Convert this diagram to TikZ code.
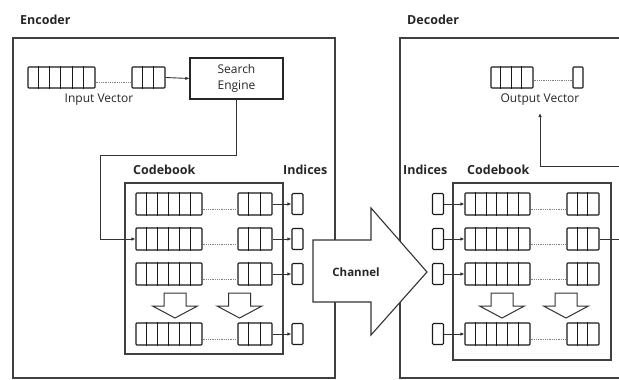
\documentclass[tikz,border=0pt]{standalone}
\usepackage{fontspec}
\setmainfont{Open Sans}
\usetikzlibrary{arrows.meta,calc,fit}

\newcommand\cellrow[6]{%
  \node[cellbox, fit={(#2,#3) (#4,#5)}] (#1) {};
  \pgfmathsetmacro\cw{(#4-#2)/#6}%
  \foreach \k in {2,...,#6}{\draw[cellline] ($(#1.north west)+({(\k-1)*\cw},0)$) -- ($(#1.south west)+({(\k-1)*\cw},0)$);}%
}

\begin{document}
\begin{tikzpicture}[x=1pt,y=-1pt,
  box/.style={draw=black!75, line width=1.3pt},
  cellbox/.style={draw=black!90, line width=1.1pt, inner sep=0pt, rounded corners=0.8pt},
  cellline/.style={draw=black!90, line width=1pt},
  idx/.style={draw=black!90, line width=1.1pt, inner sep=0pt, minimum width=11pt, minimum height=21pt, rounded corners=1.2pt},
  dots/.style={draw=black!50, densely dotted, line width=0.8pt},
  conn/.style={draw=black!80, line width=0.9pt, -{Latex[length=4pt,width=3.5pt]}},
  lbl/.style={font=\fontsize{12}{16}\selectfont, text=black!85, inner sep=0pt},
  hdr/.style={font=\fontsize{12.5}{14}\selectfont\bfseries, text=black!85, inner sep=0pt, anchor=west},
  blockarrow/.style={draw=black!80, line width=1pt, fill=white, line join=miter}
]
\useasboundingbox (0,0) rectangle (619,380);
\clip (0,0) rectangle (619,380);

% ---------- headers ----------
\node[hdr] (enclbl) at (20,20) {Encoder};
\node[hdr] (declbl) at (407,20) {Decoder};

% ---------- outer boxes ----------
\draw[box] (13,38) rectangle (335,378);
\draw[box] (400,38) rectangle (730,378);

% ---------- encoder: input vector & search engine ----------
\cellrow{iva}{28}{67}{95}{88}{6}
\cellrow{ivb}{132}{67}{165}{88}{3}
\draw[dots] ($(iva.east)+(0,5)$) -- ($(ivb.west)+(0,5)$);
\node[lbl] (ivlbl) at (99,100) {Input Vector};
\node[draw=black!85, line width=1.1pt, minimum width=93pt, minimum height=41pt, align=center, lbl] (se) at (236.5,78.5) {Search\\Engine};
\draw[conn] (ivb.east) -- (se.west);

% ---------- encoder codebook ----------
\node[hdr] (enccb) at (133,170) {Codebook};
\node[hdr] (encidx) at (283,170) {Indices};
\draw[box, line width=1.1pt] (125,183) rectangle (283,354);

\cellrow{e1a}{136}{193}{202}{215}{6}
\cellrow{e1b}{238}{193}{272}{215}{3}
\cellrow{e2a}{136}{228}{202}{250}{6}
\cellrow{e2b}{238}{228}{272}{250}{3}
\cellrow{e3a}{136}{263}{202}{285}{6}
\cellrow{e3b}{238}{263}{272}{285}{3}
\cellrow{e4a}{136}{323}{202}{345}{6}
\cellrow{e4b}{238}{323}{272}{345}{3}
\foreach \r in {1,2,3,4}{\draw[dots] ($(e\r a.east)+(0,5)$) -- ($(e\r b.west)+(0,5)$);}

\node[idx] (ei1) at (297.5,204) {};
\node[idx] (ei2) at (297.5,239) {};
\node[idx] (ei3) at (297.5,274) {};
\node[idx] (ei4) at (297.5,334) {};
\foreach \r in {1,2,3,4}{\draw[conn] (e\r b.east) -- (ei\r.west);}

% down block arrows (encoder)
\foreach \cx in {175,239.5}{
  \draw[blockarrow] (\cx-11,293) -- (\cx+11,293) -- (\cx+11,306) -- (\cx+22.5,306) -- (\cx,318) -- (\cx-22.5,306) -- (\cx-11,306) -- cycle;
}

% search engine -> codebook
\draw[conn] (se.south) |- (100,155) |- (e2a.west);

% ---------- decoder ----------
\cellrow{ova}{491}{67}{533}{88}{4}
\node[cellbox, minimum width=10pt, minimum height=21pt] (ovb) at (578,77.5) {};
\draw[dots] ($(ova.east)+(0,2.5)$) -- ($(ovb.west)+(0,2.5)$);
\node[lbl] (ovlbl) at (540,100) {Output Vector};

\node[hdr] (decidx) at (403,170) {Indices};
\node[hdr] (deccb) at (467,170) {Codebook};
\draw[box, line width=1.1pt] (453,183) rectangle (611,360);

\cellrow{d1a}{465}{193}{530}{215}{6}
\cellrow{d1b}{567}{193}{599}{215}{3}
\cellrow{d2a}{465}{228}{530}{250}{6}
\cellrow{d2b}{567}{228}{599}{250}{3}
\cellrow{d3a}{465}{263}{530}{285}{6}
\cellrow{d3b}{567}{263}{599}{285}{3}
\cellrow{d4a}{465}{323}{530}{345}{6}
\cellrow{d4b}{567}{323}{599}{345}{3}
\foreach \r in {1,2,3,4}{\draw[dots] ($(d\r a.east)+(0,5)$) -- ($(d\r b.west)+(0,5)$);}

\node[idx] (di1) at (438,204) {};
\node[idx] (di2) at (438,239) {};
\node[idx] (di3) at (438,274) {};
\node[idx] (di4) at (438,334) {};
\foreach \r in {1,2,3,4}{\draw[conn] (di\r.east) -- (d\r a.west);}

\foreach \cx in {502,566}{
  \draw[blockarrow] (\cx-11,293) -- (\cx+11,293) -- (\cx+11,306) -- (\cx+22.5,306) -- (\cx,318) -- (\cx-22.5,306) -- (\cx-11,306) -- cycle;
}

% feedback to output vector
\coordinate (fb) at (640,166);
\coordinate (ovin) at (540,113);
\draw[conn] (d2b.east) -| (fb) -| (ovin);

% ---------- channel ----------
\draw[blockarrow, line width=1.1pt] (313,240) -- (371,240) -- (371,208) -- (427,272) -- (371,335) -- (371,302) -- (313,302) -- cycle;
\node[lbl, font=\fontsize{11.5}{14}\selectfont\bfseries] (chan) at (356,272) {Channel};
\end{tikzpicture}
\end{document}
